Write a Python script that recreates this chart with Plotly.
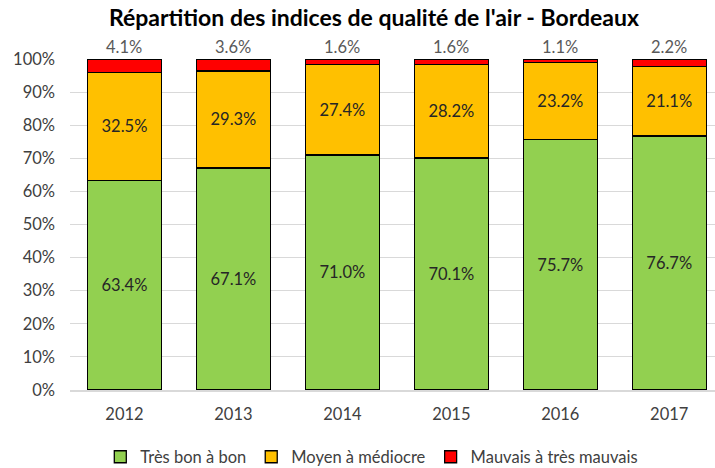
import plotly.graph_objects as go

years = ["2012", "2013", "2014", "2015", "2016", "2017"]
tres_bon = [63.4, 67.1, 71.0, 70.1, 75.7, 76.7]
moyen = [32.5, 29.3, 27.4, 28.2, 23.2, 21.1]
mauvais = [4.1, 3.6, 1.6, 1.6, 1.1, 2.2]

FONT = "Lato, 'Open Sans', sans-serif"
x_pos = list(range(len(years)))

fig = go.Figure()

series = [
    ("Très bon à bon", tres_bon, "#92D050", True),
    ("Moyen à médiocre", moyen, "#FFC000", True),
    ("Mauvais à très mauvais", mauvais, "#FF0000", False),
]
for name, vals, color, inside in series:
    fig.add_trace(go.Bar(
        x=x_pos, y=vals, name=name,
        marker=dict(color=color, line=dict(color="#000000", width=1.3)),
        text=[f"{v:.1f}%" for v in vals] if inside else None,
        textposition="inside" if inside else "none",
        insidetextanchor="middle",
        textfont=dict(family=FONT, size=16.5, color="#262626"),
        constraintext="none",
        width=0.68,
    ))

# labels of the thin top segment sit above each stack
tops = [min(round(g + m + r, 1), 100.0) for g, m, r in zip(tres_bon, moyen, mauvais)]
for xi, top, val in zip(x_pos, tops, mauvais):
    fig.add_annotation(
        x=xi, y=top, text=f"{val:.1f}%", showarrow=False,
        yanchor="bottom", yshift=0,
        font=dict(family=FONT, size=16.5, color="#595959"),
    )

fig.update_layout(
    width=715, height=468,
    barmode="stack",
    plot_bgcolor="white", paper_bgcolor="white",
    margin=dict(l=70, r=0, t=59, b=78),
    title=dict(
        text="<b>Répartition des indices de qualité de l'air - Bordeaux</b>",
        x=0.523, xref="container", xanchor="center",
        y=1 - 18 / 468, yref="container", yanchor="middle",
        font=dict(family=FONT, size=23, color="#000000"),
    ),
    xaxis=dict(
        range=[-0.5, 5.42],
        tickmode="array", tickvals=x_pos, ticktext=years,
        showgrid=False, zeroline=False,
        showline=True, linecolor="#D9D9D9", linewidth=1.5,
        ticks="", ticklabelstandoff=8,
        tickfont=dict(family=FONT, size=16.5, color="#404040"),
    ),
    yaxis=dict(
        range=[0, 100], dtick=10, ticksuffix="%",
        showgrid=True, gridcolor="#D9D9D9", gridwidth=1,
        zeroline=False, showline=False, ticks="",
        ticklabelstandoff=14,
        tickfont=dict(family=FONT, size=16.5, color="#404040"),
    ),
    legend=dict(
        orientation="h",
        x=0.52, xref="container", xanchor="center",
        y=1 - 457 / 468, yref="container", yanchor="middle",
        font=dict(family=FONT, size=16.5, color="#404040"),
        itemwidth=30,
        traceorder="normal",
    ),
)

fig.write_html("out.html")
